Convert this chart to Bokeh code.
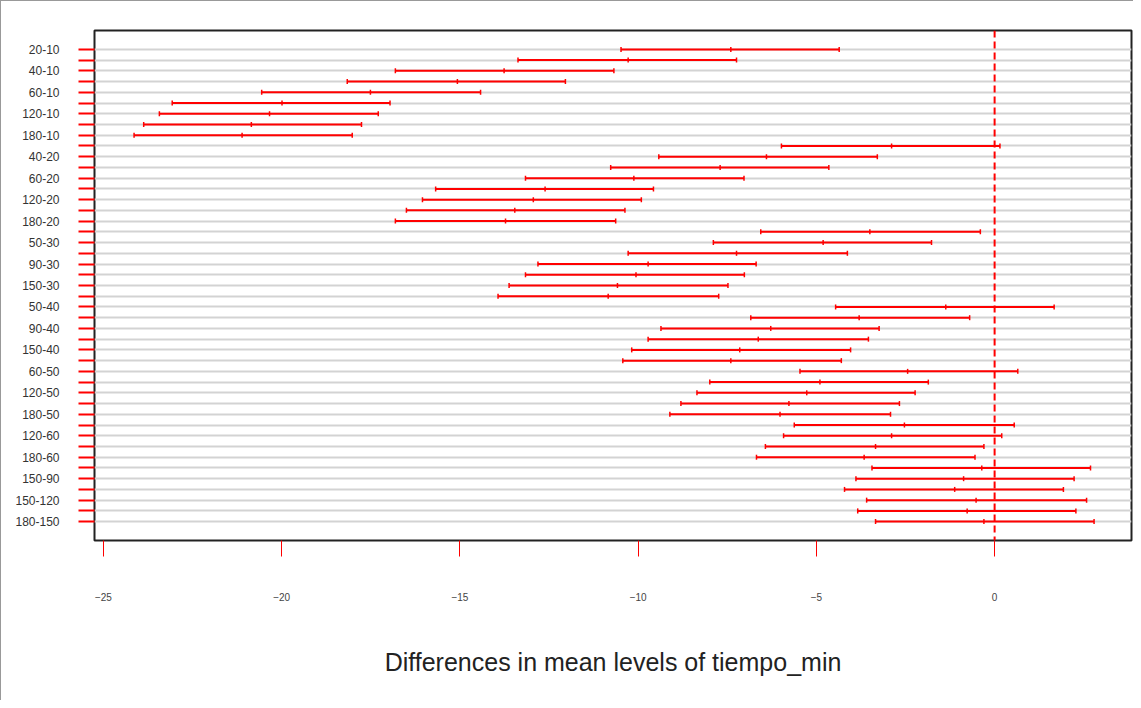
import numpy as np
from bokeh.plotting import figure
from bokeh.models import Range1d, FixedTicker, Span, ColumnDataSource
from bokeh.embed import file_html
from bokeh.resources import INLINE

comparisons = ["20-10", "30-10", "40-10", "50-10", "60-10", "90-10", "120-10", "150-10", "180-10",
               "30-20", "40-20", "50-20", "60-20", "90-20", "120-20", "150-20", "180-20",
               "40-30", "50-30", "60-30", "90-30", "120-30", "150-30", "180-30",
               "50-40", "60-40", "90-40", "120-40", "150-40", "180-40",
               "60-50", "90-50", "120-50", "150-50", "180-50",
               "90-60", "120-60", "150-60", "180-60",
               "120-90", "150-90", "180-90",
               "150-120", "180-120",
               "180-150"]

diff = [-7.40, -10.28, -13.76, -15.07, -17.51, -19.99, -20.34, -20.85, -21.11,
        -2.89, -6.40, -7.70, -10.12, -12.61, -12.94, -13.46, -13.72,
        -3.50, -4.81, -7.24, -9.72, -10.06, -10.58, -10.84,
        -1.37, -3.80, -6.28, -6.63, -7.15, -7.40,
        -2.44, -4.90, -5.27, -5.77, -6.02,
        -2.53, -2.89, -3.34, -3.66,
        -0.36, -0.87, -1.12,
        -0.52, -0.77,
        -0.30]

lwr = [-10.48, -13.37, -16.81, -18.16, -20.56, -23.07, -23.43, -23.87, -24.14,
       -5.98, -9.42, -10.77, -13.16, -15.68, -16.05, -16.50, -16.81,
       -6.56, -7.89, -10.28, -12.81, -13.16, -13.62, -13.93,
       -4.46, -6.84, -9.36, -9.72, -10.18, -10.43,
       -5.46, -7.99, -8.35, -8.80, -9.11,
       -5.62, -5.92, -6.43, -6.68,
       -3.44, -3.89, -4.21,
       -3.59, -3.84,
       -3.34]

upr = [-4.36, -7.24, -10.68, -12.04, -14.42, -16.96, -17.29, -17.76, -18.02,
       0.15, -3.29, -4.65, -7.03, -9.57, -9.91, -10.37, -10.63,
       -0.40, -1.77, -4.13, -6.69, -7.02, -7.48, -7.74,
       1.67, -0.70, -3.24, -3.54, -4.04, -4.30,
       0.65, -1.86, -2.23, -2.67, -2.92,
       0.55, 0.20, -0.30, -0.55,
       2.69, 2.23, 1.93,
       2.58, 2.28,
       2.79]

x_ticks = [-25, -20, -15, -10, -5, 0]

n = len(comparisons)
ys = [n - i for i in range(n)]

src = ColumnDataSource(dict(comp=comparisons, diff=diff, lwr=lwr, upr=upr, y=ys))

p = figure(width=1133, height=700,
           x_range=Range1d(-25.25, 3.84), y_range=Range1d(-0.76, n + 1.76),
           output_backend="svg", toolbar_location=None,
           min_border_left=93, min_border_right=3, min_border_top=29, min_border_bottom=161)

p.styles = {"border-top": "1px solid #999999", "border-left": "1px solid #999999"}

p.outline_line_color = "#222222"
p.outline_line_width = 2
p.background_fill_color = "white"
p.border_fill_color = "white"

# grid
p.xgrid.visible = False
p.ygrid.ticker = FixedTicker(ticks=ys)
p.ygrid.grid_line_color = "#d3d3d3"
p.ygrid.grid_line_width = 2

# y axis
p.yaxis.ticker = FixedTicker(ticks=ys)
p.yaxis.major_label_overrides = {float(ys[i]): (comparisons[i] if i % 2 == 0 else "") for i in range(n)}
p.yaxis.axis_line_color = None
p.yaxis.major_tick_line_color = "red"
p.yaxis.major_tick_line_width = 2
p.yaxis.major_tick_out = 16
p.yaxis.major_tick_in = 0
p.yaxis.minor_tick_line_color = None
p.yaxis.major_label_standoff = 19
p.yaxis.major_label_text_font = "Liberation Sans"
p.yaxis.major_label_text_font_size = "12px"
p.yaxis.major_label_text_color = "#333333"

# x axis
p.xaxis.ticker = FixedTicker(ticks=x_ticks)
p.xaxis.axis_line_color = None
p.xaxis.major_tick_line_color = "red"
p.xaxis.major_tick_line_width = 1
p.xaxis.major_tick_out = 16
p.xaxis.major_tick_in = 0
p.xaxis.minor_tick_line_color = None
p.xaxis.major_label_standoff = 36
p.xaxis.major_label_text_font = "Liberation Sans"
p.xaxis.major_label_text_font_size = "10px"
p.xaxis.major_label_text_color = "#444444"
p.xaxis.axis_label = "Differences in mean levels of tiempo_min"
p.xaxis.axis_label_text_font = "Liberation Sans"
p.xaxis.axis_label_text_font_style = "normal"
p.xaxis.axis_label_text_font_size = "25px"
p.xaxis.axis_label_text_color = "#222222"
p.xaxis.axis_label_standoff = 44

# zero line
p.add_layout(Span(location=0, dimension="height", line_color="red",
                  line_dash="7 4", line_width=2))

# intervals
p.segment(x0="lwr", y0="y", x1="upr", y1="y", source=src, line_color="red", line_width=2)
for col in ["lwr", "diff", "upr"]:
    p.scatter(x=col, y="y", source=src, marker="dash", angle=np.pi / 2, size=5,
              line_color="red", line_width=1.5)

open("out.html", "w").write(file_html(p, INLINE))
